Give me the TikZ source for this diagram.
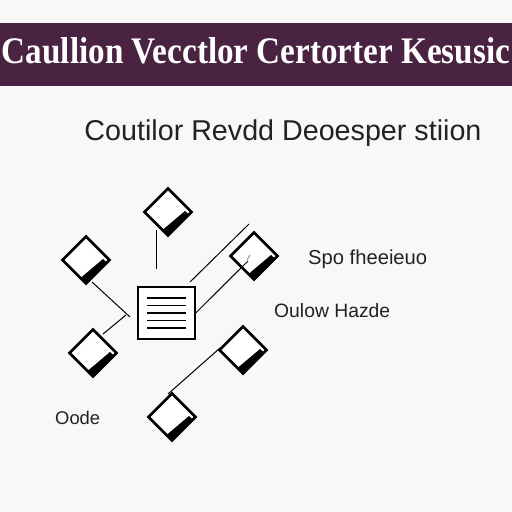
\documentclass[tikz,border=0pt]{standalone}
\usepackage{fontspec}
\setmainfont{Liberation Sans}
\newfontfamily\titlefont{Liberation Serif}
\usetikzlibrary{shapes.geometric,calc}
\definecolor{barpurple}{HTML}{4A2242}
\definecolor{bgc}{HTML}{F8F8F8}
\definecolor{txt}{HTML}{222222}
\tikzset{
  dia/.style={shape=diamond, draw=black, line width=2.6pt, minimum size=48pt, inner sep=0pt, fill=white},
  link/.style={draw=black, line width=1pt},
  lbl/.style={text=txt, inner sep=0pt}
}
\begin{document}
\begin{tikzpicture}[x=1pt,y=-1pt]
\useasboundingbox (0,0) rectangle (512,512);
\fill[bgc] (0,0) rectangle (512,512);
\fill[barpurple] (0,23) rectangle (512,86);
\node[text=white, inner sep=0pt] (title) at (256,51) {\resizebox{508pt}{26pt}{\titlefont\bfseries\fontsize{28}{30}\selectfont Caullion Vecctlor Certorter Kesusic}};
\node[text=txt, inner sep=0pt] (sub) at (283,133) {\resizebox{397pt}{!}{\fontsize{20}{22}\selectfont Coutilor Revdd Deoesper stiion}};
% diamonds
\node[dia] (d1) at (168,212) {};
\node[dia] (d2) at (86,260) {};
\node[dia] (d3) at (254,256) {};
\node[dia] (d4) at (93,353) {};
\node[dia] (d5) at (243,350) {};
\node[dia] (d6) at (172,417) {};
\foreach \d in {d1,d2,d3,d4,d5,d6}{
  \fill[black] ($(\d.center)+(21,2.5)$) -- ($(\d.center)+(0,23.5)$) -- ($(\d.center)+(-5.5,18)$) -- ($(\d.center)+(17,-1)$) -- cycle;
}
% document
\node[draw=black, line width=1.4pt, fill=white, minimum width=57pt, minimum height=52pt, inner sep=0pt] (doc) at (166.5,313) {};
\foreach \yy in {298,305.5,313,320.5,328}{
  \draw[line width=1.5pt] (147,\yy) -- (186,\yy);
}
% free end coordinates
\coordinate (a1) at (156,230);
\coordinate (a2) at (156,269);
\coordinate (b1) at (190,282);
\coordinate (b2) at (249,224);
\coordinate (c2) at (248,261);
\coordinate (e1) at (92,282);
\coordinate (e2) at (130,317);
\coordinate (f1) at (126,315);
\coordinate (f2) at (103,334);
\coordinate (g1) at (220,348);
\coordinate (g2) at (168,394);
\draw[link] (a1) -- (a2);
\draw[link] (b1) -- (b2);
\draw[link] (doc.east) -- (c2);
\draw[link] (e1) -- (e2);
\draw[link] (f1) -- (f2);
\draw[link] (g1) -- (g2);
\draw[line width=0.8pt, gray] (247,260) -- (250,255);
% labels
\node[lbl, anchor=west] (l1) at (308,259) {\resizebox{119pt}{!}{\fontsize{13}{15}\selectfont Spo fheeieuo}};
\node[lbl, anchor=west] (l2) at (274,311) {\resizebox{116pt}{!}{\fontsize{13}{15}\selectfont Oulow Hazde}};
\node[lbl, anchor=west] (l3) at (55,418) {\resizebox{45pt}{!}{\fontsize{13}{15}\selectfont Oode}};
\end{tikzpicture}
\end{document}
